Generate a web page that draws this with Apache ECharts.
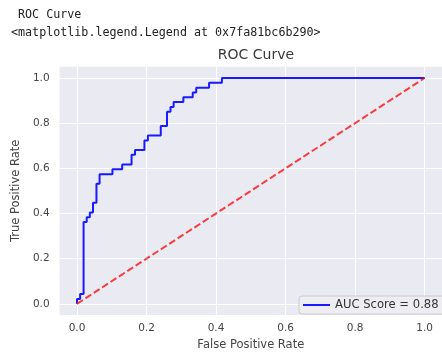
<!DOCTYPE html>
<html>
<head>
<meta charset="utf-8">
<script src="https://cdn.jsdelivr.net/npm/echarts@6/dist/echarts.min.js"></script>
<style>
  html, body { margin: 0; padding: 0; background: #ffffff; }
  #chart { width: 442px; height: 356px; }
</style>
</head>
<body>
<div id="chart"></div>
<script>
// ROC curve points (false positive rate / true positive rate)
const fpr = [0, 0, 0.009, 0.009, 0.019, 0.019, 0.028, 0.028, 0.037, 0.037,
  0.046, 0.046, 0.056, 0.056, 0.065, 0.065, 0.102, 0.102, 0.130, 0.130,
  0.157, 0.157, 0.167, 0.167, 0.194, 0.194, 0.204, 0.204, 0.241, 0.241,
  0.259, 0.259, 0.269, 0.269, 0.278, 0.278, 0.306, 0.306, 0.333, 0.333,
  0.343, 0.343, 0.380, 0.380, 0.417, 0.417, 1.0];
const tpr = [0, 0.021, 0.021, 0.043, 0.043, 0.362, 0.362, 0.383, 0.383, 0.404,
  0.404, 0.447, 0.447, 0.532, 0.532, 0.574, 0.574, 0.596, 0.596, 0.617,
  0.617, 0.660, 0.660, 0.681, 0.681, 0.723, 0.723, 0.745, 0.745, 0.787,
  0.787, 0.851, 0.851, 0.872, 0.872, 0.894, 0.894, 0.915, 0.915, 0.936,
  0.936, 0.957, 0.957, 0.979, 0.979, 1.0, 1.0];
// chance line
const chanceX = [0, 1];
const chanceY = [0, 1];
const aucScore = 0.88;
const tickValues = [0, 0.2, 0.4, 0.6, 0.8, 1.0];

const rocData = fpr.map((x, i) => [x, tpr[i]]);
const chanceData = chanceX.map((x, i) => [x, chanceY[i]]);
const legendName = 'AUC Score = ' + aucScore.toFixed(2);

const FONT = '"DejaVu Sans", "Liberation Sans", sans-serif';
const MONO = '"DejaVu Sans Mono", "Liberation Mono", monospace';

const chart = echarts.init(document.getElementById('chart'), null, { renderer: 'canvas' });

chart.setOption({
  animation: false,
  backgroundColor: '#ffffff',
  graphic: [
    { type: 'text', x: 18, y: 15, style: { text: 'ROC Curve', font: '11.7px ' + MONO, fill: '#222', align: 'left', verticalAlign: 'middle' } },
    { type: 'text', x: 11, y: 32.5, style: { text: '<matplotlib.legend.Legend at 0x7fa81bc6b290>', font: '11.7px ' + MONO, fill: '#222', align: 'left', verticalAlign: 'middle' } },
    { type: 'text', x: 256, y: 55, style: { text: 'ROC Curve', font: '14px ' + FONT, fill: '#3a3a3a', align: 'center', verticalAlign: 'middle' } }
  ],
  grid: {
    left: 59.6, top: 66.7, width: 393.4, height: 254.6,
    show: true, backgroundColor: '#EAEAF2', borderWidth: 0
  },
  legend: {
    data: [legendName],
    left: 299, top: 296,
    orient: 'vertical',
    icon: 'rect',
    itemWidth: 27, itemHeight: 2,
    padding: [3, 30, 3, 4],
    backgroundColor: '#EDEDF3',
    borderColor: '#CCCCCC', borderWidth: 1, borderRadius: 3,
    textStyle: { fontFamily: FONT, fontSize: 11.6, color: '#333' }
  },
  xAxis: {
    type: 'value', min: -0.05, max: 1.05,
    name: 'False Positive Rate', nameLocation: 'middle', nameGap: 21,
    nameTextStyle: { fontFamily: FONT, fontSize: 11.5, color: '#444' },
    axisLine: { show: false },
    axisTick: { show: false, customValues: tickValues },
    axisLabel: { customValues: tickValues, margin: 8, fontFamily: FONT, fontSize: 10.5, color: '#444',
      formatter: v => v.toFixed(1) },
    splitLine: { show: true, lineStyle: { color: '#ffffff', width: 1 } }
  },
  yAxis: {
    type: 'value', min: -0.05, max: 1.05,
    name: 'True Positive Rate', nameLocation: 'middle', nameGap: 33,
    nameTextStyle: { fontFamily: FONT, fontSize: 11.5, color: '#444' },
    axisLine: { show: false },
    axisTick: { show: false, customValues: tickValues },
    axisLabel: { customValues: tickValues, margin: 10, fontFamily: FONT, fontSize: 10.5, color: '#444',
      formatter: v => v.toFixed(1) },
    splitLine: { show: true, lineStyle: { color: '#ffffff', width: 1 } }
  },
  series: [
    {
      name: legendName, type: 'line', data: rocData,
      showSymbol: false, symbol: 'none',
      lineStyle: { color: '#1a1aff', width: 2 },
      itemStyle: { color: '#1a1aff' },
      z: 2
    },
    {
      name: 'chance', type: 'line', data: chanceData,
      showSymbol: false, symbol: 'none',
      lineStyle: { color: 'rgba(255,0,0,0.75)', width: 2, type: [7, 3] },
      z: 3
    }
  ]
});
</script>
</body>
</html>
